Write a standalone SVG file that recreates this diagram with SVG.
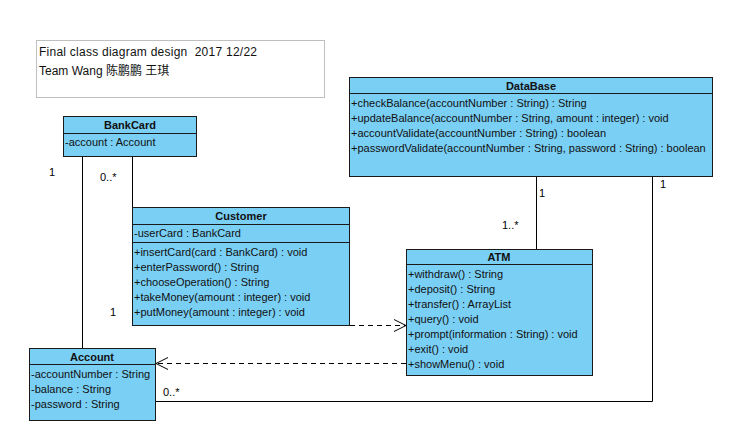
<svg xmlns="http://www.w3.org/2000/svg" width="729" height="437" viewBox="0 0 729 437">
  <defs>
    <style>
      .box { fill: #7acff5; stroke: #1a1a1a; stroke-width: 1; }
      .sep { stroke: #1a1a1a; stroke-width: 1; }
      .t { font-family: "Liberation Sans", Arial, sans-serif; font-size: 11px; fill: #111; }
      .h { font-family: "Liberation Sans", Arial, sans-serif; font-size: 11px; font-weight: bold; fill: #111; text-anchor: middle; }
      .note { font-family: "Liberation Sans", Arial, "Noto Sans CJK SC", sans-serif; font-size: 12px; fill: #111; }
      .assoc { fill: none; stroke: #000; stroke-width: 1; }
      .dep { fill: none; stroke: #000; stroke-width: 1; stroke-dasharray: 5 4; }
      .m { font-family: "Liberation Sans", Arial, sans-serif; font-size: 11px; fill: #000; }
    </style>
    <marker id="open" markerWidth="14" markerHeight="14" refX="13" refY="7" orient="auto" markerUnits="userSpaceOnUse">
      <path d="M1,1 L13,7 L1,13" fill="none" stroke="#000" stroke-width="1"/>
    </marker>
  </defs>

  <rect width="729" height="437" fill="#fff"/>

  <!-- note -->
  <g id="note">
    <rect x="36.5" y="40.5" width="288" height="57" fill="#fff" stroke="#bfbfbf"/>
    <text class="note" x="39" y="56" xml:space="preserve" textLength="218" lengthAdjust="spacing">Final class diagram design  2017 12/22</text>
    <text class="note" x="39" y="75">Team Wang 陈鹏鹏 王琪</text>
  </g>

  <!-- connectors -->
  <g id="connectors">
    <path class="assoc" d="M82.5,157 V348"/>
    <path class="assoc" d="M132.5,157 V207"/>
    <path class="assoc" d="M536.5,177 V249"/>
    <path class="assoc" d="M652.5,177 V401.5 H156"/>
    <path class="dep" d="M350,325.5 H406" marker-end="url(#open)"/>
    <path class="dep" d="M406,363.5 H156" marker-end="url(#open)"/>
    <text class="m" x="49" y="176">1</text>
    <text class="m" x="100" y="181">0..*</text>
    <text class="m" x="110" y="316">1</text>
    <text class="m" x="539" y="197">1</text>
    <text class="m" x="502" y="229">1..*</text>
    <text class="m" x="660" y="188">1</text>
    <text class="m" x="163" y="396">0..*</text>
  </g>

  <!-- DataBase -->
  <g id="DataBase">
    <rect class="box" x="349.5" y="77.5" width="363" height="99"/>
    <line class="sep" x1="349.5" y1="93.5" x2="712.5" y2="93.5"/>
    <text class="h" x="531" y="90">DataBase</text>
    <text class="t" x="351" y="107">+checkBalance(accountNumber : String) : String</text>
    <text class="t" x="351" y="122">+updateBalance(accountNumber : String, amount : integer) : void</text>
    <text class="t" x="351" y="137">+accountValidate(accountNumber : String) : boolean</text>
    <text class="t" x="351" y="152">+passwordValidate(accountNumber : String, password : String) : boolean</text>
  </g>

  <!-- BankCard -->
  <g id="BankCard">
    <rect class="box" x="63.5" y="116.5" width="133" height="40"/>
    <line class="sep" x1="63.5" y1="133.5" x2="196.5" y2="133.5"/>
    <text class="h" x="130" y="129">BankCard</text>
    <text class="t" x="65" y="146">-account : Account</text>
  </g>

  <!-- Customer -->
  <g id="Customer">
    <rect class="box" x="132.5" y="207.5" width="217" height="118"/>
    <line class="sep" x1="132.5" y1="224.5" x2="349.5" y2="224.5"/>
    <line class="sep" x1="132.5" y1="242.5" x2="349.5" y2="242.5"/>
    <text class="h" x="241" y="220">Customer</text>
    <text class="t" x="134" y="237">-userCard : BankCard</text>
    <text class="t" x="134" y="256">+insertCard(card : BankCard) : void</text>
    <text class="t" x="134" y="271">+enterPassword() : String</text>
    <text class="t" x="134" y="286">+chooseOperation() : String</text>
    <text class="t" x="134" y="301">+takeMoney(amount : integer) : void</text>
    <text class="t" x="134" y="316">+putMoney(amount : integer) : void</text>
  </g>

  <!-- ATM -->
  <g id="ATM">
    <rect class="box" x="406.5" y="249.5" width="186" height="126"/>
    <line class="sep" x1="406.5" y1="264.5" x2="592.5" y2="264.5"/>
    <text class="h" x="499" y="261">ATM</text>
    <text class="t" x="408" y="278">+withdraw() : String</text>
    <text class="t" x="408" y="293">+deposit() : String</text>
    <text class="t" x="408" y="308">+transfer() : ArrayList</text>
    <text class="t" x="408" y="323">+query() : void</text>
    <text class="t" x="408" y="338">+prompt(information : String) : void</text>
    <text class="t" x="408" y="353">+exit() : void</text>
    <text class="t" x="408" y="368">+showMenu() : void</text>
  </g>

  <!-- Account -->
  <g id="Account">
    <rect class="box" x="29.5" y="348.5" width="126" height="72"/>
    <line class="sep" x1="29.5" y1="364.5" x2="155.5" y2="364.5"/>
    <text class="h" x="92" y="361">Account</text>
    <text class="t" x="31" y="378">-accountNumber : String</text>
    <text class="t" x="31" y="393">-balance : String</text>
    <text class="t" x="31" y="408">-password : String</text>
  </g>
</svg>
